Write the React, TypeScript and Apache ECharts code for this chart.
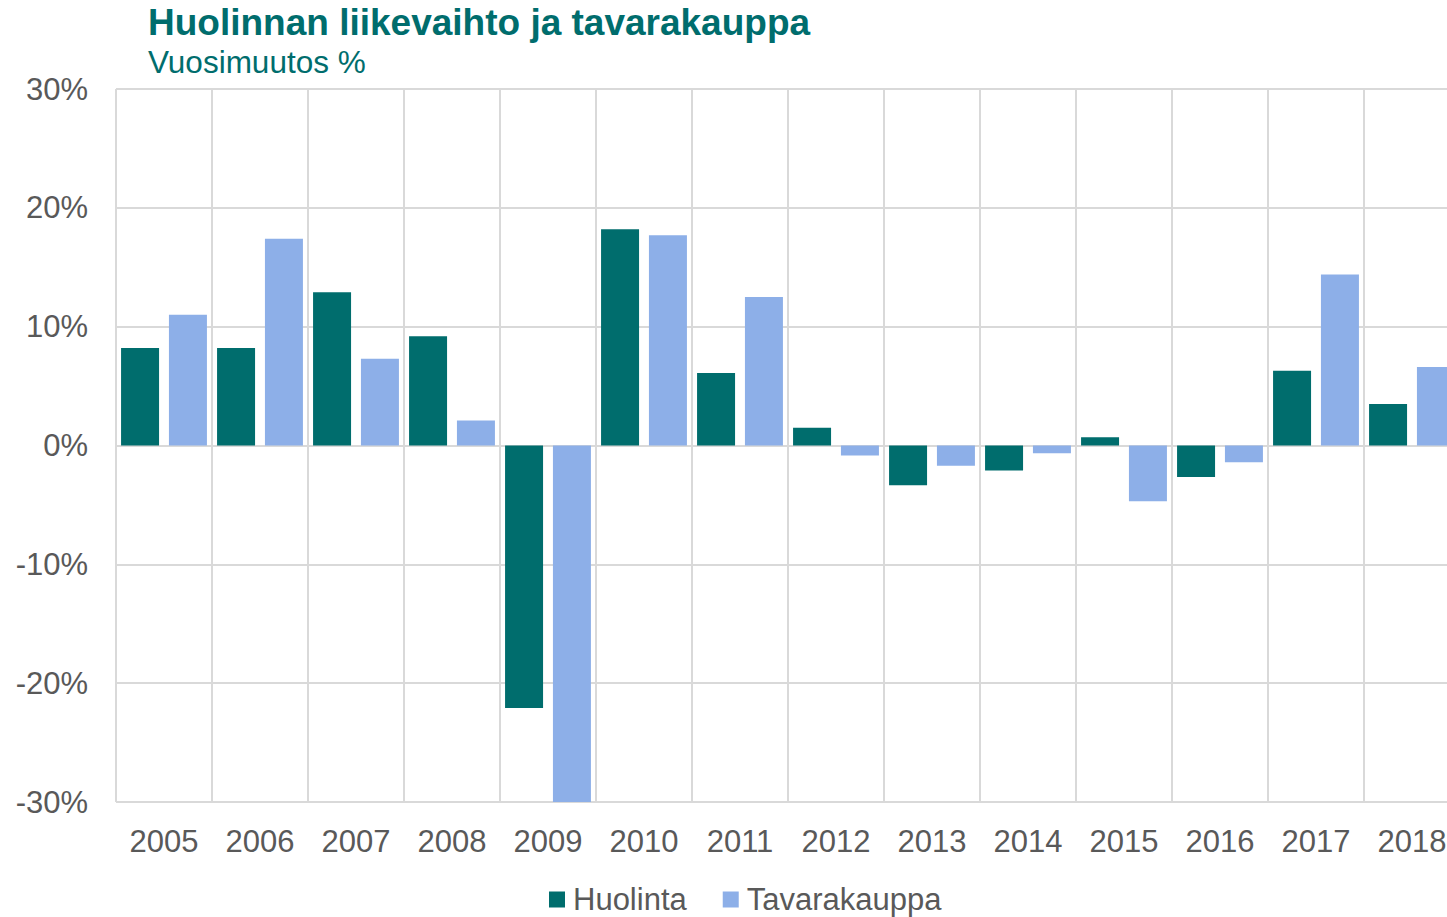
import React, { useEffect, useRef } from "react";
import * as echarts from "echarts";

const titleText = "Huolinnan liikevaihto ja tavarakauppa";
const subtitleText = "Vuosimuutos %";
const years = ["2005", "2006", "2007", "2008", "2009", "2010", "2011", "2012", "2013", "2014", "2015", "2016", "2017", "2018"];
const huolinta = [8.2, 8.2, 12.9, 9.2, -22.1, 18.2, 6.1, 1.5, -3.35, -2.1, 0.7, -2.65, 6.3, 3.5];
const tavarakauppa = [11.0, 17.4, 7.3, 2.1, -30.2, 17.7, 12.5, -0.85, -1.7, -0.65, -4.7, -1.4, 14.4, 6.6];
const seriesNames = ["Huolinta", "Tavarakauppa"];

const TEAL = "#006D6D";
const BLUE = "#8DAFE8";
const GRID = "#D9D9D9";
const LABEL = "#595959";
const FONT = "'Liberation Sans', Arial, sans-serif";

export default function App() {
  const ref = useRef<HTMLDivElement>(null);
  useEffect(() => {
    if (!ref.current) return;
    const chart = echarts.init(ref.current, undefined, { renderer: "svg" });
    chart.setOption({
      animation: false,
      textStyle: { fontFamily: FONT },
      graphic: [
        {
          type: "text",
          x: 148,
          y: 22,
          style: {
            text: titleText,
            fill: TEAL,
            font: `bold 37px ${FONT}`,
            verticalAlign: "middle",
          },
        },
        {
          type: "text",
          x: 148,
          y: 62,
          style: {
            text: subtitleText,
            fill: TEAL,
            font: `31.5px ${FONT}`,
            verticalAlign: "middle",
          },
        },
      ],
      legend: {
        left: 544,
        top: 879,
        itemWidth: 16,
        itemHeight: 16,
        itemGap: 36,
        icon: "rect",
        textStyle: { fontSize: 31, color: LABEL, fontFamily: FONT, padding: [0, 0, 0, 3] },
        data: seriesNames,
      },
      grid: { left: 116, top: 89, right: 0, height: 713, containLabel: false },
      xAxis: {
        type: "category",
        data: years,
        boundaryGap: true,
        axisLine: { show: false },
        axisTick: { show: false },
        axisLabel: { fontSize: 31, color: LABEL, margin: 24, fontFamily: FONT, interval: 0 },
        splitLine: { show: true, interval: 0, lineStyle: { color: GRID, width: 2 } },
      },
      yAxis: {
        type: "value",
        min: -30,
        max: 30,
        interval: 10,
        axisLine: { show: false },
        axisTick: { show: false },
        axisLabel: { fontSize: 31, color: LABEL, margin: 28, formatter: "{value}%", fontFamily: FONT },
        splitLine: { show: true, lineStyle: { color: GRID, width: 2 } },
      },
      series: [
        {
          name: seriesNames[0],
          type: "bar",
          data: huolinta,
          barWidth: 38,
          barGap: "26%",
          itemStyle: { color: TEAL },
        },
        {
          name: seriesNames[1],
          type: "bar",
          data: tavarakauppa,
          barWidth: 38,
          barGap: "26%",
          itemStyle: { color: BLUE },
        },
      ],
    });
    return () => chart.dispose();
  }, []);
  return (
    <div style={{ position: "absolute", left: 0, top: 0, width: 1447, height: 917, overflow: "hidden", background: "#fff" }}>
      <div ref={ref} style={{ position: "absolute", left: 0, top: 0, width: 1460, height: 917 }} />
    </div>
  );
}
